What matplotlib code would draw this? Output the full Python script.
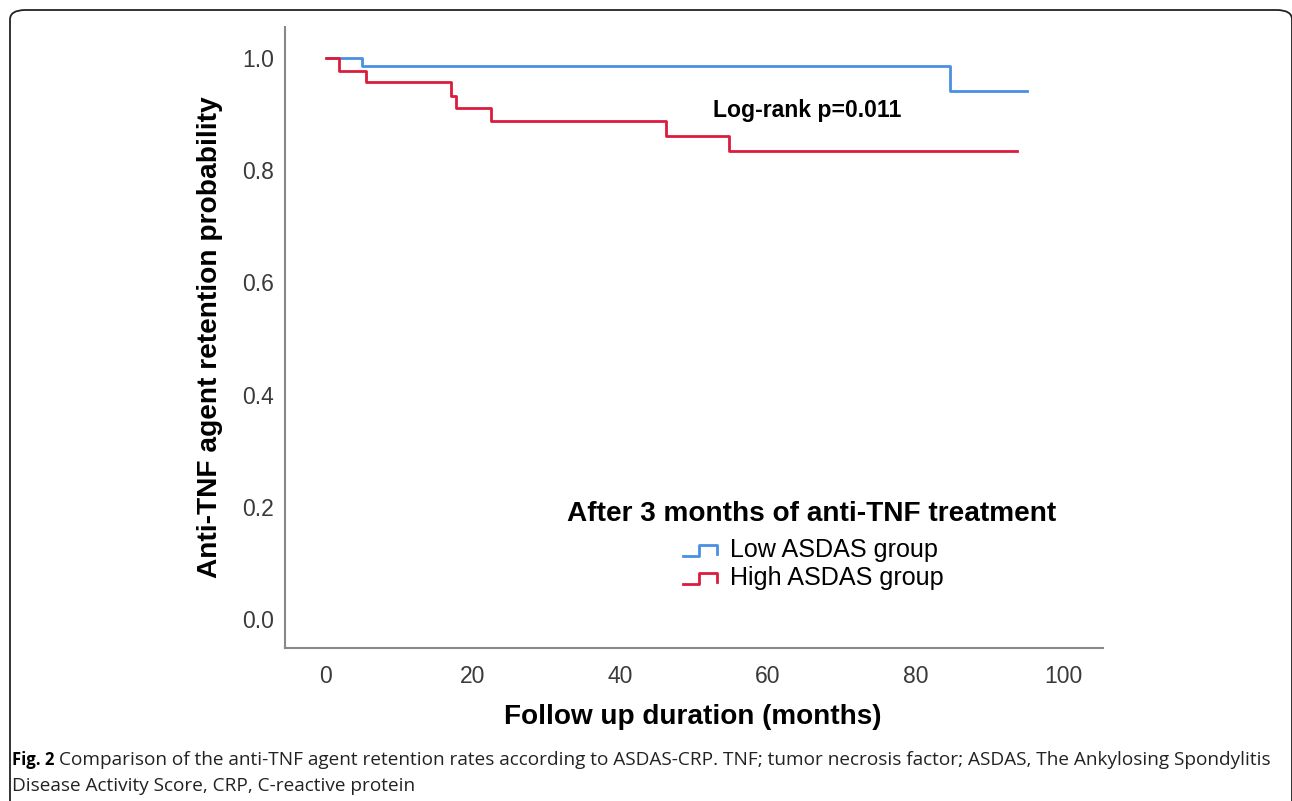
import matplotlib
matplotlib.use("Agg")
import matplotlib.pyplot as plt
from matplotlib.patches import FancyBboxPatch
from matplotlib.lines import Line2D
import numpy as np

# Data (Kaplan-Meier step curves)
low_t = [0.3, 5.0, 84.7, 95.1]
low_s = [1.000, 0.986, 0.942, 0.942]
high_t = [0.1, 1.9, 5.5, 17.1, 17.7, 22.5, 46.2, 54.7, 93.8]
high_s = [1.000, 0.977, 0.957, 0.932, 0.911, 0.888, 0.861, 0.835, 0.835]
x_ticks = [0, 20, 40, 60, 80, 100]
y_ticks = [0.0, 0.2, 0.4, 0.6, 0.8, 1.0]
group_labels = ["Low ASDAS group", "High ASDAS group"]
legend_title = "After 3 months of anti-TNF treatment"
pvalue_text = "Log-rank p=0.011"

BLUE = "#4a90e2"
RED = "#dc1c3c"
W, H = 1292, 801

fig = plt.figure(figsize=(W / 100, H / 100), dpi=100)
fig.patch.set_facecolor("white")

def fx(px):
    return px / W

def fy(py):
    return 1 - py / H

# outer rounded frame
frame = FancyBboxPatch((fx(10), fy(830)), fx(1282), (830 - 10) / H,
                       boxstyle="round,pad=0,rounding_size=0.012",
                       transform=fig.transFigure, fill=False,
                       edgecolor="#222222", linewidth=1.3, clip_on=True)
fig.patches.append(frame)

ax_l, ax_r, ax_t, ax_b = 285, 1103, 27, 648
ax = fig.add_axes([fx(ax_l), fy(ax_b), fx(ax_r - ax_l), (ax_b - ax_t) / H])

# axis mapping: x 0 -> 325px, 100 -> 1063px ; y 1.0 -> 58px, 0.0 -> 619px
xpp = (1063 - 325) / 100.0
ypp = (619 - 58) / 1.0
ax.set_xlim(-(325 - ax_l) / xpp, 100 + (ax_r - 1063) / xpp)
ax.set_ylim(-(ax_b - 619) / ypp, 1.0 + (58 - ax_t) / ypp)

ax.step(low_t, low_s, where="post", color=BLUE, lw=2.0)
ax.step(high_t, high_s, where="post", color=RED, lw=2.0)

for s in ["top", "right"]:
    ax.spines[s].set_visible(False)
for s in ["left", "bottom"]:
    ax.spines[s].set_color("#888888")
    ax.spines[s].set_linewidth(1.5)

ax.set_xticks(x_ticks)
ax.set_yticks(y_ticks)
ax.set_xticklabels([str(v) for v in x_ticks])
ax.set_yticklabels([f"{v:.1f}" for v in y_ticks])
ax.tick_params(length=0, labelsize=16.5, labelcolor="#3a3a3a", pad=8)
for lab in ax.get_xticklabels() + ax.get_yticklabels():
    lab.set_fontfamily("Liberation Sans")
ax.tick_params(axis="x", pad=12)

renderer = fig.canvas.get_renderer()

def fit(t, target_w, horizontal=True):
    fig.canvas.draw()
    bb = t.get_window_extent(renderer)
    w = bb.width if horizontal else bb.height
    t.set_fontsize(t.get_fontsize() * target_w / w)

# labels
yl = fig.text(fx(210), fy(337), "Anti-TNF agent retention probability", rotation=90,
              ha="center", va="center", fontsize=18, fontweight="bold",
              family="Liberation Sans", color="black")
fit(yl, 481, horizontal=False)
xl = fig.text(fx(693), fy(717), "Follow up duration (months)", ha="center", va="center",
              fontsize=18, fontweight="bold", family="Liberation Sans")
fit(xl, 377)

pv = fig.text(fx(807), fy(110), pvalue_text, ha="center", va="center",
              fontsize=15, fontweight="bold", family="Liberation Sans")
fit(pv, 190)

lt = fig.text(fx(812), fy(514), legend_title, ha="center", va="center",
              fontsize=18, fontweight="bold", family="Liberation Sans")
fit(lt, 489)

for i, (lab, col) in enumerate(zip(group_labels, [BLUE, RED])):
    yc = [550, 578][i]
    t = fig.text(fx(730), fy(yc), lab, ha="left", va="center", fontsize=16,
                 family="Liberation Sans")
    if i == 0:
        fit(t, 208)
        lsize = t.get_fontsize()
    else:
        t.set_fontsize(lsize)
    xs = [683, 699, 699, 717, 717]
    ys = [yc + 6, yc + 6, yc - 5, yc - 5, yc + 4]
    fig.add_artist(Line2D([fx(v) for v in xs], [fy(v) for v in ys],
                          transform=fig.transFigure, color=col, lw=2.0))

# caption
c1a = fig.text(fx(12), fy(760), "Fig. 2", ha="left", va="center", fontsize=12,
               fontweight="bold", family="Open Sans")
fig.canvas.draw()
bb = c1a.get_window_extent(renderer)
c1b = fig.text(fx(12) + (bb.width + 5) / W, fy(760),
               "Comparison of the anti-TNF agent retention rates according to ASDAS-CRP. TNF; tumor necrosis factor; ASDAS, The Ankylosing Spondylitis",
               ha="left", va="center", fontsize=12, family="Open Sans", color="#222222")
fig.canvas.draw()
bb2 = c1b.get_window_extent(renderer)
scale = (1268 - bb2.x0) / bb2.width
c1b.set_fontsize(12 * scale)
c2 = fig.text(fx(12), fy(786), "Disease Activity Score, CRP, C-reactive protein",
              ha="left", va="center", fontsize=12 * scale, family="Open Sans", color="#222222")

fig.savefig("out.png", dpi=100)
